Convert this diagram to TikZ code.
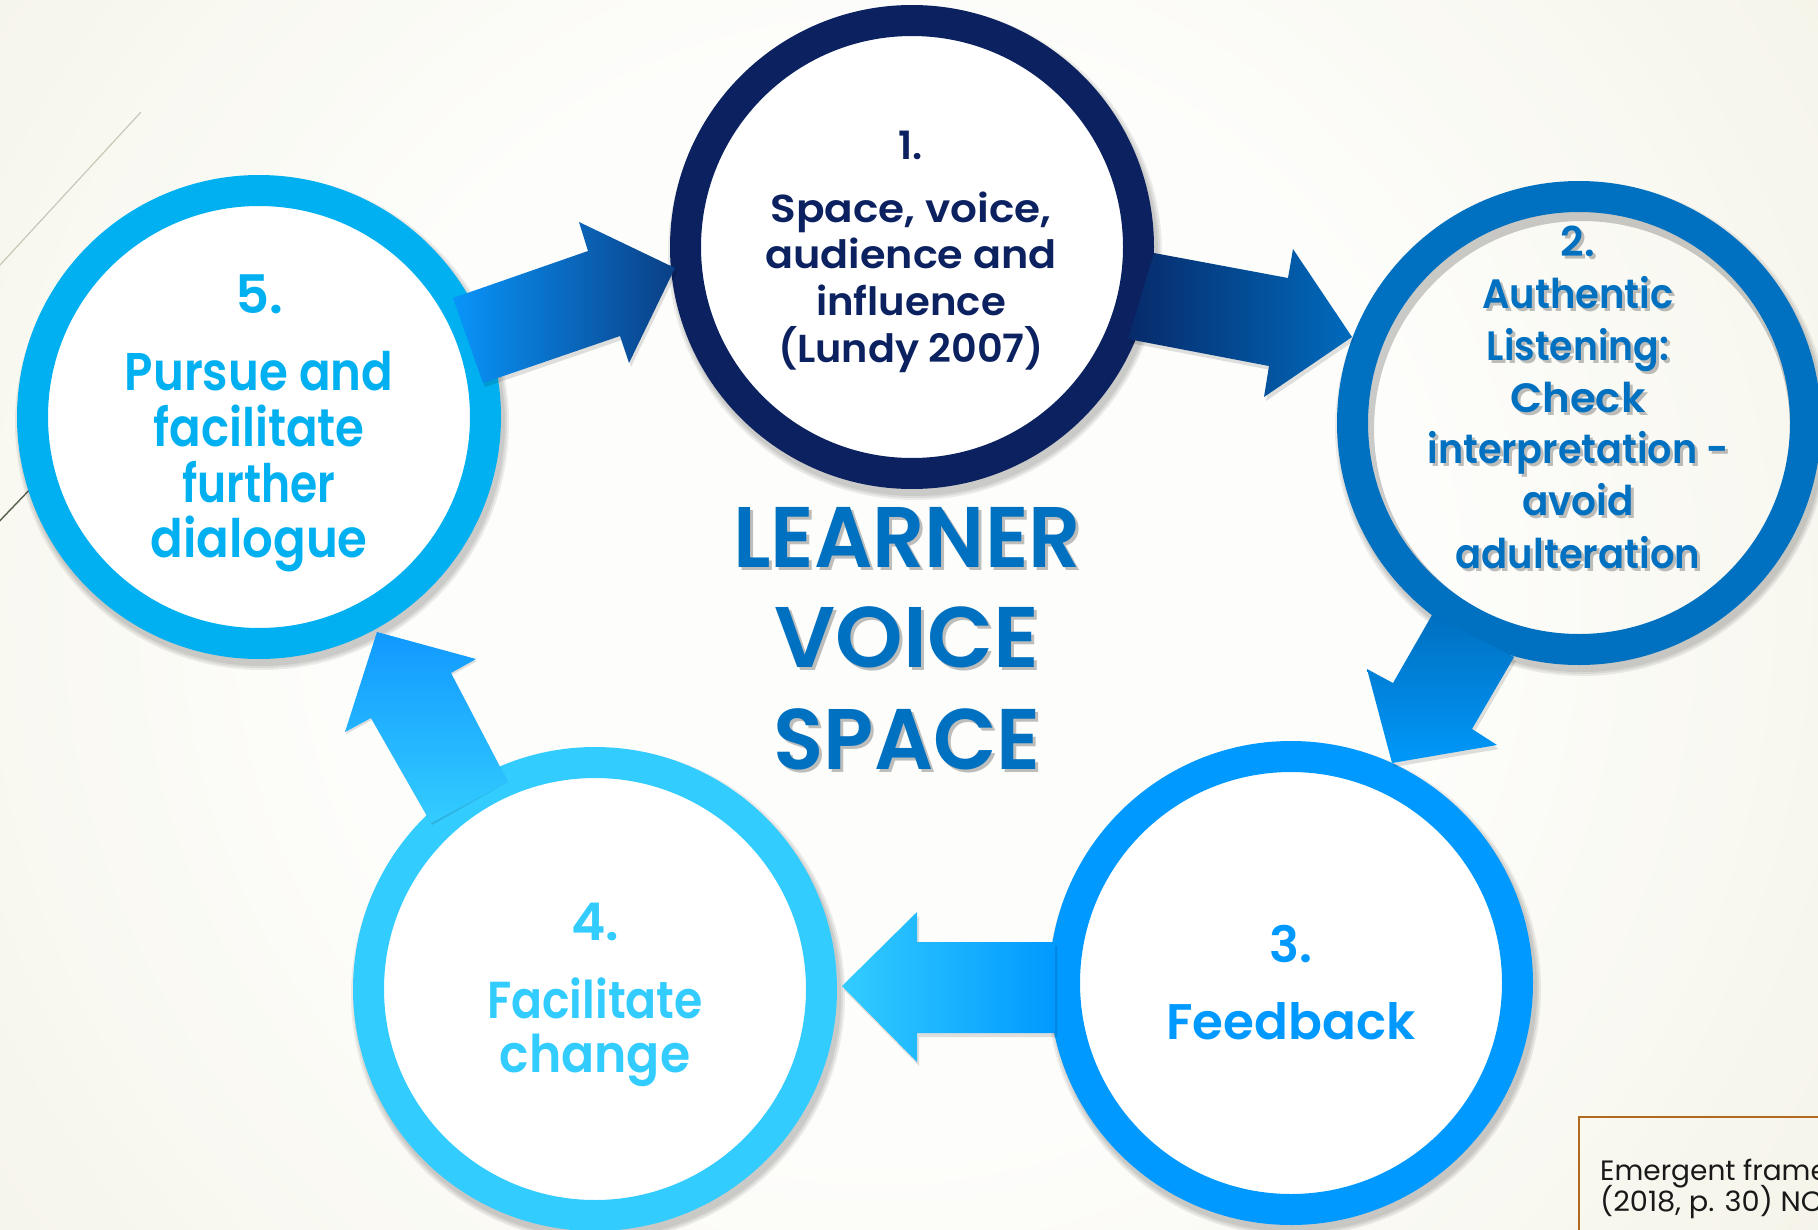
\documentclass[tikz,border=0pt]{standalone}
\usepackage{graphicx}
\usepackage{fontspec}
\setmainfont{Poppins}[BoldFont={Poppins SemiBold}]
\usetikzlibrary{calc}
\definecolor{bgA}{HTML}{FDFDFB}
\definecolor{bgB}{HTML}{E6E2C6}
\definecolor{navy}{HTML}{0B2160}
\definecolor{blueB}{HTML}{0070C0}
\definecolor{blueC}{HTML}{0099FF}
\definecolor{blueD}{HTML}{33CCFF}
\definecolor{blueE}{HTML}{00B0F0}
\definecolor{boxbrown}{HTML}{B0691F}
\definecolor{a1s}{HTML}{0995FA}
\definecolor{a1e}{HTML}{0A3F85}
\definecolor{a2s}{HTML}{072A6A}
\definecolor{a2e}{HTML}{006BBD}
\definecolor{a3e}{HTML}{0098FA}
\definecolor{a5e}{HTML}{1199FF}
\definecolor{linelight}{HTML}{C9C8B6}
\definecolor{linedark}{HTML}{59604E}
\pgfdeclareradialshading{bgshade}{\pgfpoint{0bp}{0bp}}{color(0bp)=(bgA); color(12bp)=(bgA); color(50bp)=(bgB)}
\tikzset{
  ring/.style={circle, minimum size=453pt, inner sep=0pt, line width=31pt},
  csh/.style={fill=black, opacity=0.07},
  ash/.style={fill=black, opacity=0.12},
  tl/.style={anchor=base, inner sep=0pt, font=\bfseries\fontsize{#1}{#1}\selectfont},
  shl/.style={anchor=base, inner sep=0pt, text=black, opacity=0.25, font=\bfseries\fontsize{#1}{#1}\selectfont},
  note/.style={anchor=base west, inner sep=0pt, text=black!90, font=\fontsize{28}{28}\selectfont},
}
\begin{document}
\begin{tikzpicture}[x=1pt,y=-1pt]
\clip (0,0) rectangle (1818,1229);
% background
\shade[shading=bgshade] (880,600) circle (1150pt);
\draw[linelight, line width=1.2pt] (141,112) -- (-12,278);
\draw[linedark, line width=1.4pt] (-10,531) -- (60,458);
% centres
\coordinate (p1) at (912,247);
\coordinate (p2) at (1579,423);
\coordinate (p3) at (1291,983);
\coordinate (p4) at (595,989);
\coordinate (p5) at (259,417);
% circle shadows
\foreach \p in {p1,p3,p4,p5}{
  \foreach \r in {247,245,243}{\fill[csh] ($(\p)+(3,6)$) circle (\r pt);}
}
\foreach \r in {247,245,243}{\fill[csh, even odd rule] ($(p2)+(3,6)$) circle (\r pt) ($(p2)+(3,6)$) circle (208pt);}
% circles
\node[ring, draw=navy, fill=white] (c1) at (p1) {};
\node[ring, draw=blueB] (c2) at (p2) {};
\node[ring, draw=blueC, fill=white] (c3) at (p3) {};
\node[ring, draw=blueD, fill=white] (c4) at (p4) {};
\node[ring, draw=blueE, fill=white] (c5) at (p5) {};
% block arrows: 5 -> 1
\fill[ash] (455,302) -- (590,255) -- (581,226) -- (677,272) -- (631,367) -- (622,340) -- (485,387) -- cycle;
\shade[left color=a1s, right color=a1e] (453,298) -- (588,251) -- (579,222) -- (675,268) -- (629,363) -- (620,336) -- (483,383) -- cycle;
% 1 -> 2
\fill[ash] (1156,257) -- (1290,282) -- (1295,253) -- (1354,341) -- (1266,401) -- (1271,370) -- (1130,343) -- cycle;
\shade[left color=a2s, right color=a2e] (1154,253) -- (1288,278) -- (1293,249) -- (1352,337) -- (1264,397) -- (1269,366) -- (1128,339) -- cycle;
% 2 -> 3
\fill[ash] (1434,619) -- (1395,687) -- (1369,673) -- (1394,767) -- (1499,749) -- (1474,733) -- (1516,661) -- cycle;
\shade[top color=blueB, bottom color=a3e] (1432,615) -- (1393,683) -- (1367,669) -- (1392,763) -- (1497,745) -- (1472,729) -- (1514,657) -- cycle;
% 3 -> 4
\fill[ash] (1057,946) -- (919,946) -- (919,916) -- (844,990) -- (919,1066) -- (919,1037) -- (1057,1037) -- cycle;
\shade[left color=blueD, right color=blueC, middle color=blueD!50!blueC] (1055,942) -- (917,942) -- (917,912) -- (842,986) -- (917,1062) -- (917,1033) -- (1055,1033) -- cycle;
% 4 -> 5
\fill[ash] (432,825) -- (372,720) -- (346,734) -- (378,634) -- (477,661) -- (452,675) -- (508,782) -- cycle;
\shade[top color=a5e, bottom color=blueD] (431,823) -- (371,718) -- (345,732) -- (377,632) -- (476,659) -- (451,673) -- (508,782) -- cycle;
% texts circle 1
\foreach \t/\yy/\sx [count=\i] in {{1.}/159/1, {Space, voice,}/222/1.08, {audience and}/268/1.06, {influence}/315/1.03, {(Lundy 2007)}/362/1.02}
  {\node[tl=39, text=navy] (c1t\i) at (911,\yy) {\scalebox{\sx}[1]{\t}};}
% circle 2 (with shadow)
\foreach \t/\yy/\sx [count=\i] in {{2.}/256/1, {Authentic}/308/0.94, {Listening:}/360/0.92, {Check}/412/1.02, {interpretation -}/463/0.93, {avoid}/515/0.95, {adulteration}/568/0.94}
  {\node[shl=41] (c2s\i) at (1581,\yy+3) {\scalebox{\sx}[1]{\t}};
   \node[tl=41, text=blueB] (c2t\i) at (1578,\yy) {\scalebox{\sx}[1]{\t}};}
% circle 3
\node[tl=50, text=blueC] (c3t1) at (1291,962) {3.};
\node[tl=50, text=blueC] (c3t2) at (1291,1039) {Feedback};
% circle 4
\node[tl=52, text=blueD] (c4t1) at (595,940) {4.};
\node[tl=52, text=blueD] (c4t2) at (595,1018) {\scalebox{0.88}[1]{Facilitate}};
\node[tl=52, text=blueD] (c4t3) at (595,1072) {\scalebox{0.94}[1]{change}};
% circle 5
\foreach \t/\yy/\sx [count=\i] in {{5.}/313/1, {Pursue and}/390/0.88, {facilitate}/446/0.88, {further}/502/0.83, {dialogue}/557/0.91}
  {\node[tl=53, text=blueE] (c5t\i) at (259,\yy) {\scalebox{\sx}[1]{\t}};}
% centre title
\foreach \t/\yy/\sx [count=\i] in {{LEARNER}/567/0.95, {VOICE}/667/1, {SPACE}/769/0.96}
  {\node[shl=86] (ms\i) at (910,\yy+3) {\scalebox{\sx}[1]{\t}};
   \node[tl=86, text=blueB] (mt\i) at (907,\yy) {\scalebox{\sx}[1]{\t}};}
% source box
\draw[boxbrown, line width=2.2pt] (1579,1117) rectangle (1840,1250);
\node[note] (n1) at (1600,1180) {Emergent frame};
\node[note] (n2) at (1600,1211) {\scalebox{1.03}[1]{(2018, p. 30) NC}};
\end{tikzpicture}
\end{document}
